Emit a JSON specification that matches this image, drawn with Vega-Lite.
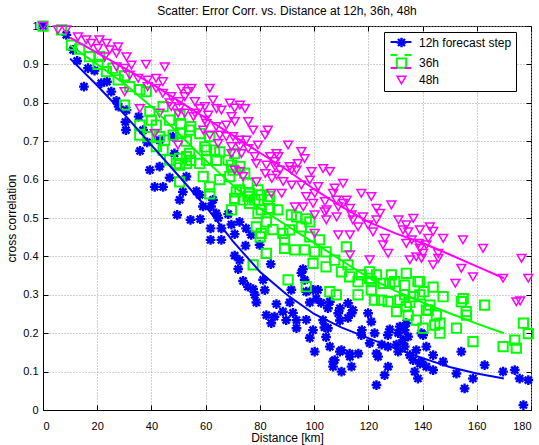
{
  "$schema": "https://vega.github.io/schema/vega-lite/v6.json",
  "width": 488,
  "height": 384,
  "autosize": {"type": "none"},
  "padding": {"left": 43, "top": 26, "right": 8, "bottom": 35},
  "background": "#ffffff",
  "title": {
    "text": "Scatter: Error Corr. vs. Distance at 12h, 36h, 48h",
    "font": "Liberation Sans",
    "fontSize": 12,
    "fontWeight": "normal",
    "color": "#000000",
    "anchor": "middle",
    "frame": "group",
    "offset": -2
  },
  "datasets": {
    "pts": [
      {"s":"12h","d":0,"r":1},{"s":"12h","d":8.6,"r":0.977},{"s":"12h","d":11.1,"r":0.938},{"s":"12h","d":12.6,"r":0.909},
      {"s":"12h","d":15.1,"r":0.842},{"s":"12h","d":16.6,"r":0.89},{"s":"12h","d":19,"r":0.884},{"s":"12h","d":21.5,"r":0.851},
      {"s":"12h","d":23.6,"r":0.855},{"s":"12h","d":25.2,"r":0.829},{"s":"12h","d":27.1,"r":0.805},{"s":"12h","d":27.9,"r":0.79},
      {"s":"12h","d":30.8,"r":0.781},{"s":"12h","d":30.4,"r":0.75},{"s":"12h","d":30.6,"r":0.729},{"s":"12h","d":35.3,"r":0.764},
      {"s":"12h","d":36.9,"r":0.729},{"s":"12h","d":35.8,"r":0.675},{"s":"12h","d":38.4,"r":0.697},{"s":"12h","d":39.4,"r":0.625},
      {"s":"12h","d":43,"r":0.634},{"s":"12h","d":41.2,"r":0.581},{"s":"12h","d":44.3,"r":0.581},{"s":"12h","d":43,"r":0.703},
      {"s":"12h","d":47.9,"r":0.712},{"s":"12h","d":48.5,"r":0.668},{"s":"12h","d":46.7,"r":0.605},{"s":"12h","d":50.4,"r":0.547},
      {"s":"12h","d":49.5,"r":0.508},{"s":"12h","d":54.4,"r":0.495},{"s":"12h","d":52.9,"r":0.608},{"s":"12h","d":51.6,"r":0.568},
      {"s":"12h","d":56.6,"r":0.57},{"s":"12h","d":57.8,"r":0.56},{"s":"12h","d":59,"r":0.53},{"s":"12h","d":62,"r":0.53},
      {"s":"12h","d":62.7,"r":0.547},{"s":"12h","d":63.9,"r":0.512},{"s":"12h","d":64.6,"r":0.5},{"s":"12h","d":58,"r":0.497},
      {"s":"12h","d":61.8,"r":0.473},{"s":"12h","d":61.8,"r":0.443},{"s":"12h","d":65.8,"r":0.473},{"s":"12h","d":65.8,"r":0.443},
      {"s":"12h","d":69.5,"r":0.483},{"s":"12h","d":68.3,"r":0.51},{"s":"12h","d":70.7,"r":0.458},{"s":"12h","d":72.5,"r":0.49},
      {"s":"12h","d":74.9,"r":0.473},{"s":"12h","d":70.7,"r":0.402},{"s":"12h","d":72.5,"r":0.39},{"s":"12h","d":72,"r":0.367},
      {"s":"12h","d":74.7,"r":0.428},{"s":"12h","d":73.8,"r":0.336},{"s":"12h","d":75.6,"r":0.321},{"s":"12h","d":77.5,"r":0.315},
      {"s":"12h","d":78.1,"r":0.3},{"s":"12h","d":78.7,"r":0.28},{"s":"12h","d":82.4,"r":0.247},{"s":"12h","d":81.8,"r":0.312},
      {"s":"12h","d":76.8,"r":0.456},{"s":"12h","d":81.2,"r":0.339},{"s":"12h","d":86.1,"r":0.276},{"s":"12h","d":84,"r":0.38},
      {"s":"12h","d":79.9,"r":0.43},{"s":"12h","d":88.5,"r":0.256},{"s":"12h","d":91,"r":0.28},{"s":"12h","d":91.6,"r":0.313},
      {"s":"12h","d":93.5,"r":0.234},{"s":"12h","d":89.7,"r":0.234},{"s":"12h","d":95.9,"r":0.367},{"s":"12h","d":95.3,"r":0.357},
      {"s":"12h","d":96.5,"r":0.339},{"s":"12h","d":97.1,"r":0.235},{"s":"12h","d":101.4,"r":0.313},{"s":"12h","d":99.6,"r":0.313},
      {"s":"12h","d":100.8,"r":0.29},{"s":"12h","d":102.6,"r":0.279},{"s":"12h","d":99.6,"r":0.208},{"s":"12h","d":103.8,"r":0.215},
      {"s":"12h","d":104.4,"r":0.19},{"s":"12h","d":98.4,"r":0.188},{"s":"12h","d":93.5,"r":0.213},{"s":"12h","d":85.4,"r":0.243},
      {"s":"12h","d":84.2,"r":0.226},{"s":"12h","d":92.2,"r":0.253},{"s":"12h","d":97.1,"r":0.308},{"s":"12h","d":98.4,"r":0.28},
      {"s":"12h","d":100.2,"r":0.152},{"s":"12h","d":105.1,"r":0.213},{"s":"12h","d":105.8,"r":0.165},{"s":"12h","d":107,"r":0.126},
      {"s":"12h","d":110.1,"r":0.1},{"s":"12h","d":109.5,"r":0.152},{"s":"12h","d":113.2,"r":0.139},{"s":"12h","d":113.8,"r":0.113},
      {"s":"12h","d":116.3,"r":0.147},{"s":"12h","d":112.5,"r":0.278},{"s":"12h","d":108.9,"r":0.252},{"s":"12h","d":113.8,"r":0.252},
      {"s":"12h","d":117.4,"r":0.195},{"s":"12h","d":119.9,"r":0.252},{"s":"12h","d":123.6,"r":0.139},{"s":"12h","d":123,"r":0.065},
      {"s":"12h","d":126,"r":0.091},{"s":"12h","d":127.2,"r":0.195},{"s":"12h","d":127.2,"r":0.165},{"s":"12h","d":130.4,"r":0.17},
      {"s":"12h","d":131,"r":0.152},{"s":"12h","d":132.8,"r":0.182},{"s":"12h","d":134,"r":0.226},{"s":"12h","d":133.4,"r":0.208},
      {"s":"12h","d":135.3,"r":0.143},{"s":"12h","d":137.1,"r":0.1},{"s":"12h","d":138.3,"r":0.082},{"s":"12h","d":139.6,"r":0.126},
      {"s":"12h","d":141.4,"r":0.113},{"s":"12h","d":140.2,"r":0.195},{"s":"12h","d":143.9,"r":0.143},{"s":"12h","d":143.9,"r":0.104},
      {"s":"12h","d":147.6,"r":0.126},{"s":"12h","d":152.5,"r":0.095},{"s":"12h","d":154.3,"r":0.152},{"s":"12h","d":155.5,"r":0.056},
      {"s":"12h","d":158.6,"r":0.082},{"s":"12h","d":162.9,"r":0.117},{"s":"12h","d":169.7,"r":0.1},{"s":"12h","d":174,"r":0.104},
      {"s":"12h","d":175.8,"r":0.082},{"s":"12h","d":179,"r":0.078},{"s":"12h","d":177.2,"r":0.013},{"s":"12h","d":105.8,"r":0.282},
      {"s":"12h","d":103.3,"r":0.234},{"s":"12h","d":105.1,"r":0.265},{"s":"12h","d":109.5,"r":0.265},{"s":"12h","d":114.3,"r":0.26},
      {"s":"12h","d":112.5,"r":0.24},{"s":"12h","d":109.5,"r":0.233},{"s":"12h","d":110.1,"r":0.156},{"s":"12h","d":107.6,"r":0.13},
      {"s":"12h","d":107,"r":0.113},{"s":"12h","d":113.1,"r":0.147},{"s":"12h","d":121.1,"r":0.23},{"s":"12h","d":117.6,"r":0.208},
      {"s":"12h","d":122.3,"r":0.2},{"s":"12h","d":120.5,"r":0.174},{"s":"12h","d":124.9,"r":0.17},{"s":"12h","d":123,"r":0.147},
      {"s":"12h","d":127.3,"r":0.113},{"s":"12h","d":127.9,"r":0.21},{"s":"12h","d":131,"r":0.2},{"s":"12h","d":131.6,"r":0.217},
      {"s":"12h","d":134.7,"r":0.191},{"s":"12h","d":133.4,"r":0.165},{"s":"12h","d":137.7,"r":0.156},{"s":"12h","d":136.5,"r":0.13},
      {"s":"12h","d":139,"r":0.121},{"s":"12h","d":141.4,"r":0.165},{"s":"12h","d":139.6,"r":0.2},

      {"s":"36h","d":0,"r":1},{"s":"36h","d":6.8,"r":0.99},{"s":"36h","d":10.5,"r":0.95},{"s":"36h","d":13.5,"r":0.94},
      {"s":"36h","d":17.2,"r":0.92},{"s":"36h","d":20.3,"r":0.9},{"s":"36h","d":20.9,"r":0.92},{"s":"36h","d":25.8,"r":0.89},
      {"s":"36h","d":23.4,"r":0.881},{"s":"36h","d":27.7,"r":0.86},{"s":"36h","d":30.1,"r":0.87},{"s":"36h","d":32,"r":0.842},
      {"s":"36h","d":30.1,"r":0.794},{"s":"36h","d":35.7,"r":0.834},{"s":"36h","d":38.1,"r":0.829},{"s":"36h","d":35.7,"r":0.742},
      {"s":"36h","d":35.7,"r":0.716},{"s":"36h","d":39.4,"r":0.777},{"s":"36h","d":40,"r":0.755},{"s":"36h","d":41.8,"r":0.742},
      {"s":"36h","d":44.3,"r":0.79},{"s":"36h","d":43,"r":0.712},{"s":"36h","d":41.8,"r":0.686},{"s":"36h","d":44.3,"r":0.677},
      {"s":"36h","d":46.7,"r":0.755},{"s":"36h","d":50.8,"r":0.746},{"s":"36h","d":50.8,"r":0.72},{"s":"36h","d":54.5,"r":0.738},
      {"s":"36h","d":46.7,"r":0.651},{"s":"36h","d":50.4,"r":0.655},{"s":"36h","d":50.4,"r":0.638},{"s":"36h","d":50.4,"r":0.594},
      {"s":"36h","d":52.9,"r":0.66},{"s":"36h","d":54.5,"r":0.65},{"s":"36h","d":57.8,"r":0.642},{"s":"36h","d":60.3,"r":0.677},
      {"s":"36h","d":59.1,"r":0.608},{"s":"36h","d":61.5,"r":0.581},{"s":"36h","d":61.5,"r":0.563},{"s":"36h","d":64,"r":0.65},
      {"s":"36h","d":65.2,"r":0.672},{"s":"36h","d":65.2,"r":0.6},{"s":"36h","d":68.9,"r":0.608},{"s":"36h","d":70.1,"r":0.625},
      {"s":"36h","d":72.6,"r":0.634},{"s":"36h","d":69.5,"r":0.521},{"s":"36h","d":74.4,"r":0.617},{"s":"36h","d":75.6,"r":0.59},
      {"s":"36h","d":72.6,"r":0.573},{"s":"36h","d":79.3,"r":0.573},{"s":"36h","d":80.5,"r":0.521},{"s":"36h","d":82.9,"r":0.547},
      {"s":"36h","d":78.1,"r":0.547},{"s":"36h","d":75.6,"r":0.556},{"s":"36h","d":50.4,"r":0.768},{"s":"36h","d":38.7,"r":0.712},
      {"s":"36h","d":44.9,"r":0.703},{"s":"36h","d":48,"r":0.716},{"s":"36h","d":54.1,"r":0.729},{"s":"36h","d":57.8,"r":0.72},
      {"s":"36h","d":61.5,"r":0.712},{"s":"36h","d":52.9,"r":0.7},{"s":"36h","d":54.1,"r":0.668},{"s":"36h","d":49.2,"r":0.642},
      {"s":"36h","d":52.9,"r":0.642},{"s":"36h","d":59.7,"r":0.685},{"s":"36h","d":63.3,"r":0.677},{"s":"36h","d":60.3,"r":0.651},
      {"s":"36h","d":68.3,"r":0.651},{"s":"36h","d":69.5,"r":0.638},{"s":"36h","d":70.7,"r":0.668},{"s":"36h","d":71.3,"r":0.568},
      {"s":"36h","d":76.2,"r":0.564},{"s":"36h","d":80.5,"r":0.56},{"s":"36h","d":70.7,"r":0.551},{"s":"36h","d":73.8,"r":0.547},
      {"s":"36h","d":76.2,"r":0.538},{"s":"36h","d":83.6,"r":0.556},{"s":"36h","d":79.3,"r":0.512},{"s":"36h","d":83.6,"r":0.525},
      {"s":"36h","d":86.6,"r":0.521},{"s":"36h","d":78.7,"r":0.477},{"s":"36h","d":82.4,"r":0.49},{"s":"36h","d":80.5,"r":0.46},
      {"s":"36h","d":84.8,"r":0.47},{"s":"36h","d":88.5,"r":0.46},{"s":"36h","d":91.6,"r":0.508},{"s":"36h","d":93.5,"r":0.503},
      {"s":"36h","d":97.1,"r":0.498},{"s":"36h","d":91,"r":0.469},{"s":"36h","d":95.3,"r":0.477},{"s":"36h","d":98.4,"r":0.49},
      {"s":"36h","d":89.1,"r":0.443},{"s":"36h","d":89.1,"r":0.421},{"s":"36h","d":92.9,"r":0.417},{"s":"36h","d":96.5,"r":0.417},
      {"s":"36h","d":100.2,"r":0.412},{"s":"36h","d":102,"r":0.443},{"s":"36h","d":98.4,"r":0.451},{"s":"36h","d":82.4,"r":0.408},
      {"s":"36h","d":77.5,"r":0.378},{"s":"36h","d":99.6,"r":0.382},{"s":"36h","d":104.4,"r":0.373},{"s":"36h","d":90.4,"r":0.339},
      {"s":"36h","d":97.1,"r":0.321},{"s":"36h","d":104.4,"r":0.412},{"s":"36h","d":80.1,"r":0.451},{"s":"36h","d":107.6,"r":0.39},
      {"s":"36h","d":110.1,"r":0.36},{"s":"36h","d":111.9,"r":0.425},{"s":"36h","d":112.5,"r":0.378},{"s":"36h","d":113.1,"r":0.347},
      {"s":"36h","d":116.2,"r":0.334},{"s":"36h","d":117.4,"r":0.352},{"s":"36h","d":120.5,"r":0.36},{"s":"36h","d":120.5,"r":0.343},
      {"s":"36h","d":123,"r":0.352},{"s":"36h","d":121.1,"r":0.334},{"s":"36h","d":128.5,"r":0.352},{"s":"36h","d":129.7,"r":0.334},
      {"s":"36h","d":134,"r":0.356},{"s":"36h","d":138.3,"r":0.334},{"s":"36h","d":105.8,"r":0.308},{"s":"36h","d":108.2,"r":0.3},
      {"s":"36h","d":116.2,"r":0.3},{"s":"36h","d":122.3,"r":0.286},{"s":"36h","d":124.9,"r":0.286},{"s":"36h","d":127.3,"r":0.282},
      {"s":"36h","d":131.6,"r":0.286},{"s":"36h","d":133.4,"r":0.3},{"s":"36h","d":136.5,"r":0.295},{"s":"36h","d":139,"r":0.3},
      {"s":"36h","d":130.4,"r":0.256},{"s":"36h","d":134.7,"r":0.247},{"s":"36h","d":137.7,"r":0.234},{"s":"36h","d":140.2,"r":0.213},
      {"s":"36h","d":141.4,"r":0.26},{"s":"36h","d":135.3,"r":0.28},{"s":"36h","d":134,"r":0.269},{"s":"36h","d":143.9,"r":0.32},
      {"s":"36h","d":142.7,"r":0.273},{"s":"36h","d":145.1,"r":0.247},{"s":"36h","d":146.4,"r":0.226},{"s":"36h","d":147.6,"r":0.295},
      {"s":"36h","d":152.5,"r":0.213},{"s":"36h","d":154.3,"r":0.282},{"s":"36h","d":155,"r":0.29},{"s":"36h","d":156.1,"r":0.256},
      {"s":"36h","d":158.6,"r":0.178},{"s":"36h","d":162.9,"r":0.273},{"s":"36h","d":169.7,"r":0.165},{"s":"36h","d":174.6,"r":0.161},
      {"s":"36h","d":174,"r":0.182},{"s":"36h","d":177.2,"r":0.226},{"s":"36h","d":179,"r":0.199},{"s":"36h","d":133.4,"r":0.325},
      {"s":"36h","d":127.9,"r":0.33},{"s":"36h","d":125.5,"r":0.33},{"s":"36h","d":121.1,"r":0.313},{"s":"36h","d":139,"r":0.334},
      {"s":"36h","d":140.5,"r":0.308},{"s":"36h","d":142.1,"r":0.26},{"s":"36h","d":156.2,"r":0.247},{"s":"36h","d":144.5,"r":0.221},
      {"s":"36h","d":146.4,"r":0.2},

      {"s":"48h","d":0,"r":1},{"s":"48h","d":5.5,"r":0.99},{"s":"48h","d":8.6,"r":0.99},{"s":"48h","d":12.9,"r":0.972},
      {"s":"48h","d":15.9,"r":0.964},{"s":"48h","d":17.8,"r":0.955},{"s":"48h","d":20.8,"r":0.964},{"s":"48h","d":20.3,"r":0.942},
      {"s":"48h","d":23.4,"r":0.955},{"s":"48h","d":24.6,"r":0.938},{"s":"48h","d":27.7,"r":0.946},{"s":"48h","d":27.1,"r":0.929},
      {"s":"48h","d":22.8,"r":0.92},{"s":"48h","d":30.8,"r":0.92},{"s":"48h","d":32.6,"r":0.898},{"s":"48h","d":30.1,"r":0.89},
      {"s":"48h","d":27.1,"r":0.894},{"s":"48h","d":38,"r":0.9},{"s":"48h","d":44.9,"r":0.894},{"s":"48h","d":32,"r":0.872},
      {"s":"48h","d":30.1,"r":0.829},{"s":"48h","d":35.1,"r":0.864},{"s":"48h","d":38.6,"r":0.859},{"s":"48h","d":41.7,"r":0.864},
      {"s":"48h","d":44.2,"r":0.855},{"s":"48h","d":38.6,"r":0.842},{"s":"48h","d":41.7,"r":0.838},{"s":"48h","d":44.2,"r":0.825},
      {"s":"48h","d":47.3,"r":0.816},{"s":"48h","d":51,"r":0.838},{"s":"48h","d":54.7,"r":0.838},{"s":"48h","d":52.3,"r":0.816},
      {"s":"48h","d":50.4,"r":0.803},{"s":"48h","d":46.7,"r":0.8},{"s":"48h","d":35.7,"r":0.785},{"s":"48h","d":43,"r":0.773},
      {"s":"48h","d":49.8,"r":0.773},{"s":"48h","d":52.3,"r":0.773},{"s":"48h","d":56,"r":0.773},{"s":"48h","d":57.8,"r":0.785},
      {"s":"48h","d":61.5,"r":0.838},{"s":"48h","d":62.7,"r":0.807},{"s":"48h","d":64,"r":0.785},{"s":"48h","d":65.8,"r":0.781},
      {"s":"48h","d":68.9,"r":0.799},{"s":"48h","d":72.6,"r":0.794},{"s":"48h","d":74.5,"r":0.785},{"s":"48h","d":60.3,"r":0.746},
      {"s":"48h","d":59.1,"r":0.729},{"s":"48h","d":61.5,"r":0.716},{"s":"48h","d":63.9,"r":0.738},{"s":"48h","d":41.2,"r":0.72},
      {"s":"48h","d":49.8,"r":0.69},{"s":"48h","d":65.2,"r":0.716},{"s":"48h","d":67.6,"r":0.712},{"s":"48h","d":70.1,"r":0.712},
      {"s":"48h","d":75.7,"r":0.751},{"s":"48h","d":77.5,"r":0.729},{"s":"48h","d":69.5,"r":0.686},{"s":"48h","d":72.6,"r":0.686},
      {"s":"48h","d":75.7,"r":0.681},{"s":"48h","d":79.3,"r":0.69},{"s":"48h","d":64.6,"r":0.694},{"s":"48h","d":69.5,"r":0.668},
      {"s":"48h","d":73.2,"r":0.668},{"s":"48h","d":78.1,"r":0.66},{"s":"48h","d":82.9,"r":0.729},{"s":"48h","d":72.6,"r":0.621},
      {"s":"48h","d":78.7,"r":0.642},{"s":"48h","d":78.7,"r":0.594},{"s":"48h","d":82.4,"r":0.638},{"s":"48h","d":53.4,"r":0.829},
      {"s":"48h","d":56,"r":0.803},{"s":"48h","d":59.7,"r":0.79},{"s":"48h","d":70.7,"r":0.786},{"s":"48h","d":47.3,"r":0.79},
      {"s":"48h","d":50.4,"r":0.786},{"s":"48h","d":60.9,"r":0.768},{"s":"48h","d":55.5,"r":0.764},{"s":"48h","d":69.5,"r":0.764},
      {"s":"48h","d":59.7,"r":0.755},{"s":"48h","d":67.6,"r":0.742},{"s":"48h","d":70.7,"r":0.751},{"s":"48h","d":81.9,"r":0.716},
      {"s":"48h","d":72.5,"r":0.703},{"s":"48h","d":75,"r":0.703},{"s":"48h","d":90.4,"r":0.69},{"s":"48h","d":95.3,"r":0.673},
      {"s":"48h","d":86.8,"r":0.66},{"s":"48h","d":83.8,"r":0.66},{"s":"48h","d":96.5,"r":0.655},{"s":"48h","d":94,"r":0.642},
      {"s":"48h","d":93.5,"r":0.625},{"s":"48h","d":99,"r":0.621},{"s":"48h","d":103.3,"r":0.629},{"s":"48h","d":85.6,"r":0.634},
      {"s":"48h","d":87.4,"r":0.625},{"s":"48h","d":82,"r":0.616},{"s":"48h","d":86.2,"r":0.612},{"s":"48h","d":91.7,"r":0.625},
      {"s":"48h","d":84.4,"r":0.603},{"s":"48h","d":88.6,"r":0.595},{"s":"48h","d":91.7,"r":0.586},{"s":"48h","d":98.4,"r":0.599},
      {"s":"48h","d":95.3,"r":0.586},{"s":"48h","d":101.5,"r":0.582},{"s":"48h","d":73.8,"r":0.608},{"s":"48h","d":86.1,"r":0.668},
      {"s":"48h","d":85.4,"r":0.647},{"s":"48h","d":105.8,"r":0.621},{"s":"48h","d":91,"r":0.634},{"s":"48h","d":100.2,"r":0.564},
      {"s":"48h","d":107,"r":0.564},{"s":"48h","d":97.1,"r":0.556},{"s":"48h","d":110.7,"r":0.59},{"s":"48h","d":117.4,"r":0.564},
      {"s":"48h","d":108.2,"r":0.547},{"s":"48h","d":104,"r":0.543},{"s":"48h","d":99.6,"r":0.538},{"s":"48h","d":110.7,"r":0.538},
      {"s":"48h","d":113.2,"r":0.525},{"s":"48h","d":104.6,"r":0.521},{"s":"48h","d":108.3,"r":0.503},{"s":"48h","d":104.5,"r":0.495},
      {"s":"48h","d":123,"r":0.525},{"s":"48h","d":124.3,"r":0.512},{"s":"48h","d":131.1,"r":0.495},{"s":"48h","d":136.6,"r":0.499},
      {"s":"48h","d":134,"r":0.482},{"s":"48h","d":142.7,"r":0.477},{"s":"48h","d":118,"r":0.503},{"s":"48h","d":114.3,"r":0.495},
      {"s":"48h","d":107.6,"r":0.578},{"s":"48h","d":121.1,"r":0.556},{"s":"48h","d":112,"r":0.547},{"s":"48h","d":108.9,"r":0.529},
      {"s":"48h","d":113.8,"r":0.508},{"s":"48h","d":128.5,"r":0.534},{"s":"48h","d":116.2,"r":0.477},{"s":"48h","d":119.9,"r":0.482},
      {"s":"48h","d":108.9,"r":0.456},{"s":"48h","d":113.2,"r":0.456},{"s":"48h","d":134.7,"r":0.464},{"s":"48h","d":139,"r":0.469},
      {"s":"48h","d":121.7,"r":0.464},{"s":"48h","d":126.1,"r":0.447},{"s":"48h","d":136,"r":0.443},{"s":"48h","d":138.5,"r":0.434},
      {"s":"48h","d":100.2,"r":0.508},{"s":"48h","d":100.2,"r":0.46},{"s":"48h","d":113.2,"r":0.404},{"s":"48h","d":120.5,"r":0.391},
      {"s":"48h","d":123,"r":0.495},{"s":"48h","d":127.3,"r":0.408},{"s":"48h","d":132.8,"r":0.469},{"s":"48h","d":134,"r":0.434},
      {"s":"48h","d":139,"r":0.421},{"s":"48h","d":139.6,"r":0.395},{"s":"48h","d":135.3,"r":0.391},{"s":"48h","d":143.9,"r":0.465},
      {"s":"48h","d":142.1,"r":0.447},{"s":"48h","d":141.4,"r":0.43},{"s":"48h","d":143.9,"r":0.378},{"s":"48h","d":145.8,"r":0.395},
      {"s":"48h","d":147.6,"r":0.447},{"s":"48h","d":154.9,"r":0.443},{"s":"48h","d":154.3,"r":0.369},{"s":"48h","d":158.6,"r":0.347},
      {"s":"48h","d":162.3,"r":0.421},{"s":"48h","d":169.7,"r":0.343},{"s":"48h","d":174.6,"r":0.282},{"s":"48h","d":176,"r":0.284},
      {"s":"48h","d":176.5,"r":0.395},{"s":"48h","d":179,"r":0.343},{"s":"48h","d":140.2,"r":0.408},{"s":"48h","d":145.8,"r":0.408},
      {"s":"48h","d":152.1,"r":0.33},{"s":"48h","d":84.2,"r":0.564},{"s":"48h","d":88,"r":0.564},{"s":"48h","d":92.9,"r":0.529},
      {"s":"48h","d":96,"r":0.529},{"s":"48h","d":103.9,"r":0.516},{"s":"48h","d":137.7,"r":0.399},{"s":"48h","d":125.4,"r":0.43},
      {"s":"48h","d":70.7,"r":0.625}
    ],
    "fit": [
      {"s":"12h fit","d":10,"r":0.915},{"s":"12h fit","d":20,"r":0.845},{"s":"12h fit","d":30,"r":0.77},{"s":"12h fit","d":40,"r":0.69},
      {"s":"12h fit","d":50,"r":0.61},{"s":"12h fit","d":60,"r":0.53},{"s":"12h fit","d":70,"r":0.44},{"s":"12h fit","d":80,"r":0.36},
      {"s":"12h fit","d":90,"r":0.3},{"s":"12h fit","d":100,"r":0.25},{"s":"12h fit","d":110,"r":0.215},{"s":"12h fit","d":120,"r":0.187},
      {"s":"12h fit","d":130,"r":0.16},{"s":"12h fit","d":140,"r":0.135},{"s":"12h fit","d":150,"r":0.112},{"s":"12h fit","d":160,"r":0.095},
      {"s":"12h fit","d":170,"r":0.082},
      {"s":"36h fit","d":10,"r":0.95},{"s":"36h fit","d":20,"r":0.9},{"s":"36h fit","d":30,"r":0.85},{"s":"36h fit","d":40,"r":0.79},
      {"s":"36h fit","d":50,"r":0.72},{"s":"36h fit","d":60,"r":0.65},{"s":"36h fit","d":70,"r":0.585},{"s":"36h fit","d":80,"r":0.525},
      {"s":"36h fit","d":90,"r":0.48},{"s":"36h fit","d":100,"r":0.435},{"s":"36h fit","d":110,"r":0.39},{"s":"36h fit","d":120,"r":0.345},
      {"s":"36h fit","d":130,"r":0.31},{"s":"36h fit","d":140,"r":0.28},{"s":"36h fit","d":150,"r":0.252},{"s":"36h fit","d":160,"r":0.225},
      {"s":"36h fit","d":170,"r":0.2},
      {"s":"48h fit","d":10,"r":0.97},{"s":"48h fit","d":20,"r":0.93},{"s":"48h fit","d":30,"r":0.89},{"s":"48h fit","d":40,"r":0.85},
      {"s":"48h fit","d":50,"r":0.805},{"s":"48h fit","d":60,"r":0.76},{"s":"48h fit","d":70,"r":0.715},{"s":"48h fit","d":80,"r":0.67},
      {"s":"48h fit","d":90,"r":0.625},{"s":"48h fit","d":100,"r":0.575},{"s":"48h fit","d":110,"r":0.53},{"s":"48h fit","d":120,"r":0.49},
      {"s":"48h fit","d":130,"r":0.46},{"s":"48h fit","d":140,"r":0.435},{"s":"48h fit","d":150,"r":0.405},{"s":"48h fit","d":160,"r":0.374},
      {"s":"48h fit","d":170,"r":0.343}
    ]
  },
  "layer": [
    {
      "data": {"name": "pts"},
      "mark": {"type": "point", "filled": false, "opacity": 1},
      "encoding": {
        "x": {
          "field": "d", "type": "quantitative",
          "scale": {"domain": [0, 180], "nice": false, "zero": false},
          "axis": {
            "values": [0, 20, 40, 60, 80, 100, 120, 140, 160, 180],
            "title": "Distance [km]",
            "labelPadding": 15,
            "titlePadding": 1
          }
        },
        "y": {
          "field": "r", "type": "quantitative",
          "scale": {"domain": [0, 1], "nice": false, "zero": false},
          "axis": {
            "values": [0, 0.1, 0.2, 0.3, 0.4, 0.5, 0.6, 0.7, 0.8, 0.9, 1],
            "format": ".1~f",
            "title": "cross correlation",
            "labelPadding": 10,
            "titlePadding": 4
          }
        },
        "color": {
          "field": "s", "type": "nominal",
          "scale": {"domain": ["12h", "36h", "48h"], "range": ["#0000ff", "#00ff00", "#ff00ff"]},
          "legend": {
            "orient": "none", "legendX": 341, "legendY": 6, "title": null,
            "labelExpr": "datum.label == '12h' ? '12h forecast step' : datum.label"
          }
        },
        "shape": {
          "field": "s", "type": "nominal",
          "scale": {
            "domain": ["12h", "36h", "48h"],
            "range": ["M-1,0L1,0M0,-1L0,1M-0.72,-0.72L0.72,0.72M-0.72,0.72L0.72,-0.72", "square", "triangle-down"]
          },
          "legend": null
        },
        "size": {
          "field": "s", "type": "nominal",
          "scale": {"domain": ["12h", "36h", "48h"], "range": [95, 78, 105]},
          "legend": null
        },
        "strokeWidth": {
          "field": "s", "type": "nominal",
          "scale": {"domain": ["12h", "36h", "48h"], "range": [2.4, 1.5, 1.5]},
          "legend": null
        }
      }
    },
    {
      "data": {"name": "fit"},
      "mark": {"type": "line", "strokeWidth": 2},
      "encoding": {
        "x": {
          "field": "d", "type": "quantitative",
          "axis": {
            "orient": "top", "values": [0, 20, 40, 60, 80, 100, 120, 140, 160, 180],
            "labels": false, "grid": false, "domain": false, "title": null, "tickSize": -5
          }
        },
        "y": {
          "field": "r", "type": "quantitative",
          "axis": {
            "orient": "right", "values": [0, 0.1, 0.2, 0.3, 0.4, 0.5, 0.6, 0.7, 0.8, 0.9, 1],
            "labels": false, "grid": false, "domain": false, "title": null, "tickSize": -5
          }
        },
        "stroke": {
          "field": "s", "type": "nominal",
          "scale": {"domain": ["12h fit", "36h fit", "48h fit"], "range": ["#0000ff", "#00ff00", "#ff00ff"]},
          "legend": {
            "orient": "none", "legendX": 341, "legendY": 6, "title": null,
            "symbolType": "M-2.6,0L-0.9,0M0.9,0L2.6,0",
            "symbolStrokeWidth": 2,
            "labelOpacity": 0,
            "fillColor": "transparent",
            "strokeColor": "transparent"
          }
        },
        "detail": {"field": "s"}
      }
    }
  ],
  "resolve": {"axis": {"x": "independent", "y": "independent"}},
  "config": {
    "font": "Liberation Sans",
    "view": {"stroke": "#000000", "strokeWidth": 1},
    "axis": {
      "labelFont": "Liberation Sans",
      "labelFontSize": 11,
      "labelColor": "#000000",
      "titleFont": "Liberation Sans",
      "titleFontSize": 12,
      "titleFontWeight": "normal",
      "titleColor": "#000000",
      "domainColor": "#000000",
      "tickColor": "#000000",
      "tickSize": -5,
      "gridColor": "#a0a0a0",
      "gridDash": [1, 2],
      "gridOpacity": 1,
      "gridWidth": 1
    },
    "legend": {
      "padding": 4,
      "fillColor": "#ffffff",
      "strokeColor": "#000000",
      "cornerRadius": 0,
      "symbolSize": 64,
      "symbolOffset": 7,
      "labelOffset": 11,
      "rowPadding": 1,
      "labelFont": "Liberation Sans",
      "labelFontSize": 12,
      "labelColor": "#000000",
      "symbolStrokeWidth": 1.5,
      "symbolOpacity": 1,
      "symbolFillColor": "transparent",
      "symbolLimit": 0
    }
  }
}
